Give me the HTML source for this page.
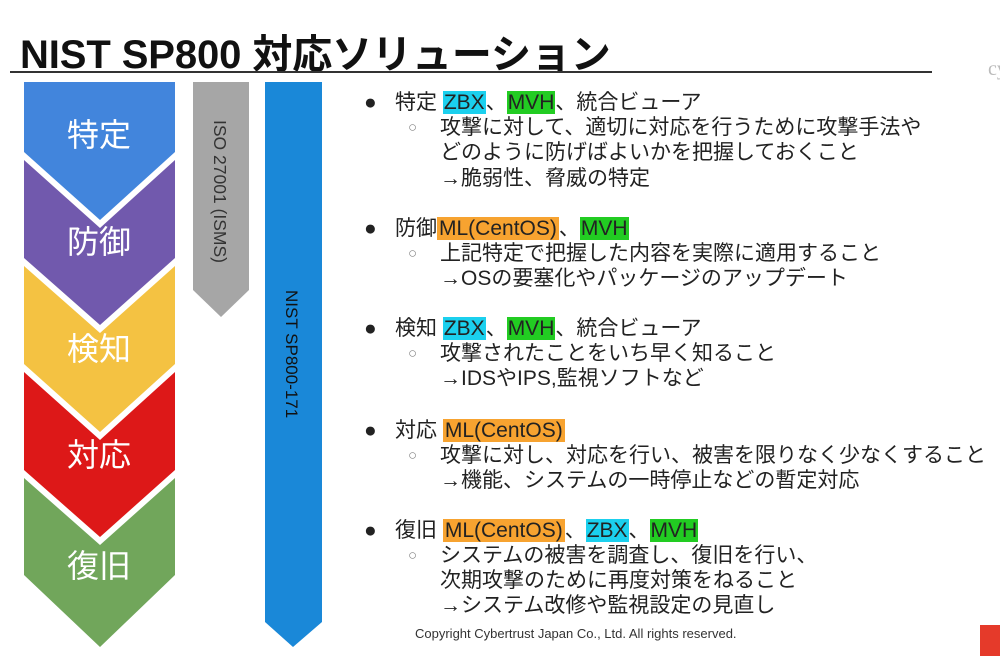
<!DOCTYPE html>
<html><head><meta charset="utf-8"><style>
body{margin:0;width:1000px;height:656px;background:#fff;position:relative;overflow:hidden;font-family:"Liberation Sans","Noto Sans CJK JP",sans-serif;}
.t{position:absolute;white-space:nowrap;font-size:21px;color:#222;line-height:25px;}
.h1{position:absolute;left:20px;top:22px;font-size:40px;font-weight:bold;color:#111;white-space:nowrap;letter-spacing:-0.1px}
.b{background:#1bd0ee;padding:0 1px}.g{background:#22cc22;padding:0 1px}.o{background:#f7a330;padding:0 2px}
.c{font-size:15px;color:#888}
</style></head><body>
<div class="h1">NIST SP800 対応ソリューション</div>
<div style="position:absolute;left:10px;top:71px;width:922px;height:2px;background:#333"></div>
<div style="position:absolute;left:988px;top:58px;font-family:'Liberation Serif',serif;color:#bbb;font-size:20px">cy</div>
<svg width="1000" height="656" style="position:absolute;left:0;top:0">
<polygon points="24,82 175,82 175,152 100,220 24,152" fill="#4285dc"/>
<polygon points="24,160 100,228 175,160 175,258 100,325 24,258" fill="#7159ad"/>
<polygon points="24,266 100,333 175,266 175,364 100,432 24,364" fill="#f4c242"/>
<polygon points="24,372 100,440 175,372 175,470 100,537 24,470" fill="#dd1818"/>
<polygon points="24,478 100,545 175,478 175,575 100,647 24,575" fill="#71a65b"/>
<g fill="#fff" font-size="32" font-family="Liberation Sans,Noto Sans CJK JP,sans-serif" text-anchor="middle">
<text x="99" y="146">特定</text><text x="99" y="253">防御</text><text x="99" y="360">検知</text><text x="99" y="466">対応</text><text x="99" y="577">復旧</text></g>
<polygon points="193,82 249,82 249,290 221,317 193,290" fill="#a6a6a6"/>
<polygon points="265,82 322,82 322,622 293,647 265,622" fill="#1a88d8"/>
<text transform="translate(214,120) rotate(90)" font-size="17.5" fill="#333" font-family="Liberation Sans,sans-serif">ISO 27001 (ISMS)</text>
<text transform="translate(286,290) rotate(90)" font-size="17" fill="#111" font-family="Liberation Sans,sans-serif">NIST SP800-171</text>
</svg>
<div class="t" style="left:364px;top:90px">●</div>
<div class="t" style="left:395px;top:90px">特定 <span class="b">ZBX</span>、<span class="g">MVH</span>、統合ビューア</div>
<div class="t c" style="left:408px;top:115px">○</div>
<div class="t" style="left:440px;top:115px">攻撃に対して、適切に対応を行うために攻撃手法や</div>
<div class="t" style="left:440px;top:140px">どのように防げばよいかを把握しておくこと</div>
<div class="t" style="left:440px;top:166px">→脆弱性、脅威の特定</div>
<div class="t" style="left:364px;top:216px">●</div>
<div class="t" style="left:395px;top:216px">防御<span class="o">ML(CentOS)</span>、<span class="g">MVH</span></div>
<div class="t c" style="left:408px;top:241px">○</div>
<div class="t" style="left:440px;top:241px">上記特定で把握した内容を実際に適用すること</div>
<div class="t" style="left:440px;top:266px">→OSの要塞化やパッケージのアップデート</div>
<div class="t" style="left:364px;top:316px">●</div>
<div class="t" style="left:395px;top:316px">検知 <span class="b">ZBX</span>、<span class="g">MVH</span>、統合ビューア</div>
<div class="t c" style="left:408px;top:341px">○</div>
<div class="t" style="left:440px;top:341px">攻撃されたことをいち早く知ること</div>
<div class="t" style="left:440px;top:366px">→IDSやIPS,監視ソフトなど</div>
<div class="t" style="left:364px;top:418px">●</div>
<div class="t" style="left:395px;top:418px">対応 <span class="o">ML(CentOS)</span></div>
<div class="t c" style="left:408px;top:443px">○</div>
<div class="t" style="left:440px;top:443px">攻撃に対し、対応を行い、被害を限りなく少なくすること</div>
<div class="t" style="left:440px;top:468px">→機能、システムの一時停止などの暫定対応</div>
<div class="t" style="left:364px;top:518px">●</div>
<div class="t" style="left:395px;top:518px">復旧 <span class="o">ML(CentOS)</span>、<span class="b">ZBX</span>、<span class="g">MVH</span></div>
<div class="t c" style="left:408px;top:543px">○</div>
<div class="t" style="left:440px;top:543px">システムの被害を調査し、復旧を行い、</div>
<div class="t" style="left:440px;top:568px">次期攻撃のために再度対策をねること</div>
<div class="t" style="left:440px;top:593px">→システム改修や監視設定の見直し</div>
<div class="t" style="left:415px;top:626px;font-size:13px;line-height:16px;color:#333">Copyright Cybertrust Japan Co., Ltd. All rights reserved.</div>
<div style="position:absolute;left:980px;top:625px;width:20px;height:31px;background:#e53a2a"></div>
</body></html>
